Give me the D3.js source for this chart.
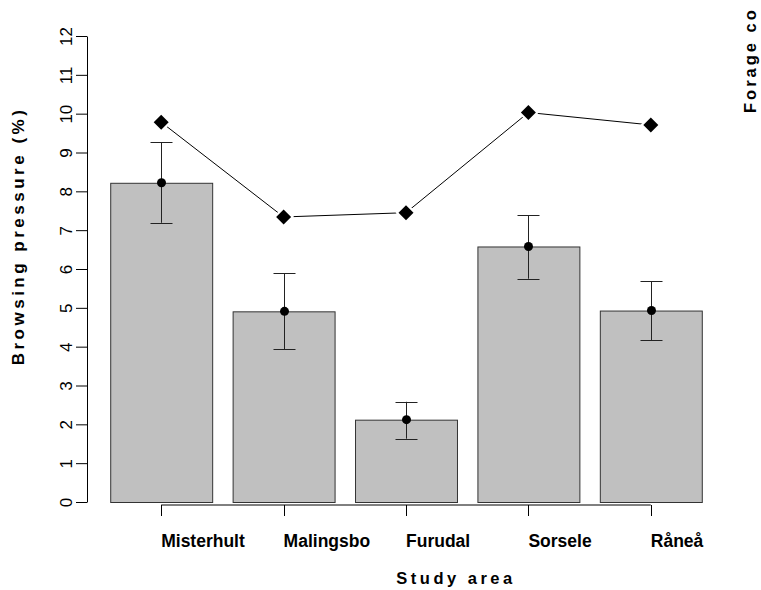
<!DOCTYPE html>
<html>
<head>
<meta charset="utf-8">
<script src="https://cdn.jsdelivr.net/npm/d3@7"></script>
<style>
  html, body { margin: 0; padding: 0; background: #fff; }
  svg { display: block; }
</style>
</head>
<body>
<svg id="chart" width="761" height="590"></svg>
<script>
const categories = ["Misterhult", "Malingsbo", "Furudal", "Sorsele", "Råneå"];
const browsing = [8.22, 4.91, 2.12, 6.58, 4.93];
const errUpper = [9.26, 5.89, 2.58, 7.39, 5.69];
const errLower = [7.19, 3.93, 1.63, 5.75, 4.16];
const forage = [9.78, 7.34, 7.45, 10.03, 9.71];
const yTicks = [0, 1, 2, 3, 4, 5, 6, 7, 8, 9, 10, 11, 12];

const svg = d3.select("#chart");
const font = "'Liberation Sans', Arial, sans-serif";

const x = d3.scaleBand().domain(categories).range([100, 712])
  .paddingInner(0.167).paddingOuter(0.0835);
const y = d3.scaleLinear().domain([0, 12]).range([502, 36]);

// Y axis
const yAxis = svg.append("g").attr("transform", "translate(87,0)")
  .call(d3.axisLeft(y).tickValues(yTicks).tickSize(11).tickSizeOuter(0).tickPadding(0).tickFormat(d3.format("d")));
yAxis.select(".domain").attr("stroke", "#000").attr("stroke-width", 1);
yAxis.selectAll(".tick line").attr("stroke", "#000");
yAxis.selectAll(".tick text")
  .attr("font-family", font).attr("font-size", 17).attr("fill", "#000")
  .attr("x", 0).attr("dy", 0)
  .attr("text-anchor", "middle")
  .attr("transform", "translate(-15,0) rotate(-90)");

// Bars
svg.append("g").selectAll("rect").data(categories).join("rect")
  .attr("x", d => x(d) + 0.5)
  .attr("y", (d, i) => y(browsing[i]) + 0.5)
  .attr("width", x.bandwidth())
  .attr("height", (d, i) => y(0) - y(browsing[i]))
  .attr("fill", "#c0c0c0").attr("stroke", "#333").attr("stroke-width", 1);

// X axis
const cx = d => x(d) + x.bandwidth() / 2;
const xAxis = svg.append("g").attr("transform", "translate(0,505)");
xAxis.append("line")
  .attr("x1", cx(categories[0])).attr("x2", cx(categories[categories.length - 1]))
  .attr("y1", 0).attr("y2", 0).attr("stroke", "#000");
xAxis.selectAll("line.tk").data(categories).join("line").attr("class", "tk")
  .attr("x1", d => Math.round(cx(d)) + 0.5).attr("x2", d => Math.round(cx(d)) + 0.5)
  .attr("y1", 0).attr("y2", 11).attr("stroke", "#000");
xAxis.selectAll("text").data(categories).join("text")
  .attr("x", d => cx(d)).attr("y", 42)
  .attr("font-family", font).attr("font-size", 17.5).attr("font-weight", "bold")
  .attr("fill", "#000").text(d => d);

// Error bars
const eb = svg.append("g");
categories.forEach((c, i) => {
  const xc = Math.round(cx(c)) + 0.5;
  eb.append("line").attr("x1", xc).attr("x2", xc)
    .attr("y1", y(errUpper[i])).attr("y2", y(errLower[i])).attr("stroke", "#222");
  [errUpper[i], errLower[i]].forEach(v => {
    eb.append("line").attr("x1", xc - 11).attr("x2", xc + 11)
      .attr("y1", Math.round(y(v)) + 0.5).attr("y2", Math.round(y(v)) + 0.5).attr("stroke", "#222");
  });
  eb.append("circle").attr("cx", xc).attr("cy", y(browsing[i])).attr("r", 4.5).attr("fill", "#000");
});

// Forage line with diamonds
const pts = categories.map((c, i) => [cx(c), y(forage[i])]);
svg.append("path").attr("d", d3.line()(pts)).attr("fill", "none").attr("stroke", "#000").attr("stroke-width", 1);
const dm = r => `M0,${-r}L${r},0L0,${r}L${-r},0Z`;
svg.append("g").selectAll("path.w").data(pts).join("path").attr("class", "w")
  .attr("transform", d => `translate(${d[0]},${d[1]})`).attr("d", dm(10.5)).attr("fill", "#fff");
svg.append("g").selectAll("path.b").data(pts).join("path").attr("class", "b")
  .attr("transform", d => `translate(${d[0]},${d[1]})`).attr("d", dm(7.5)).attr("fill", "#000");

// Axis titles
svg.append("text").attr("transform", "translate(24,236) rotate(-90)")
  .attr("text-anchor", "middle").attr("font-family", font).attr("font-size", 17)
  .attr("font-weight", "bold").attr("letter-spacing", "3.5px").text("Browsing pressure (%)");
svg.append("text").attr("x", 456).attr("y", 584)
  .attr("text-anchor", "middle").attr("font-family", font).attr("font-size", 16.5)
  .attr("font-weight", "bold").attr("letter-spacing", "3.5px").text("Study area");
svg.append("text").attr("transform", "translate(756,113) rotate(-90)")
  .attr("text-anchor", "start").attr("font-family", font).attr("font-size", 16.5)
  .attr("font-weight", "bold").attr("letter-spacing", "3px").text("Forage co");
</script>
</body>
</html>
